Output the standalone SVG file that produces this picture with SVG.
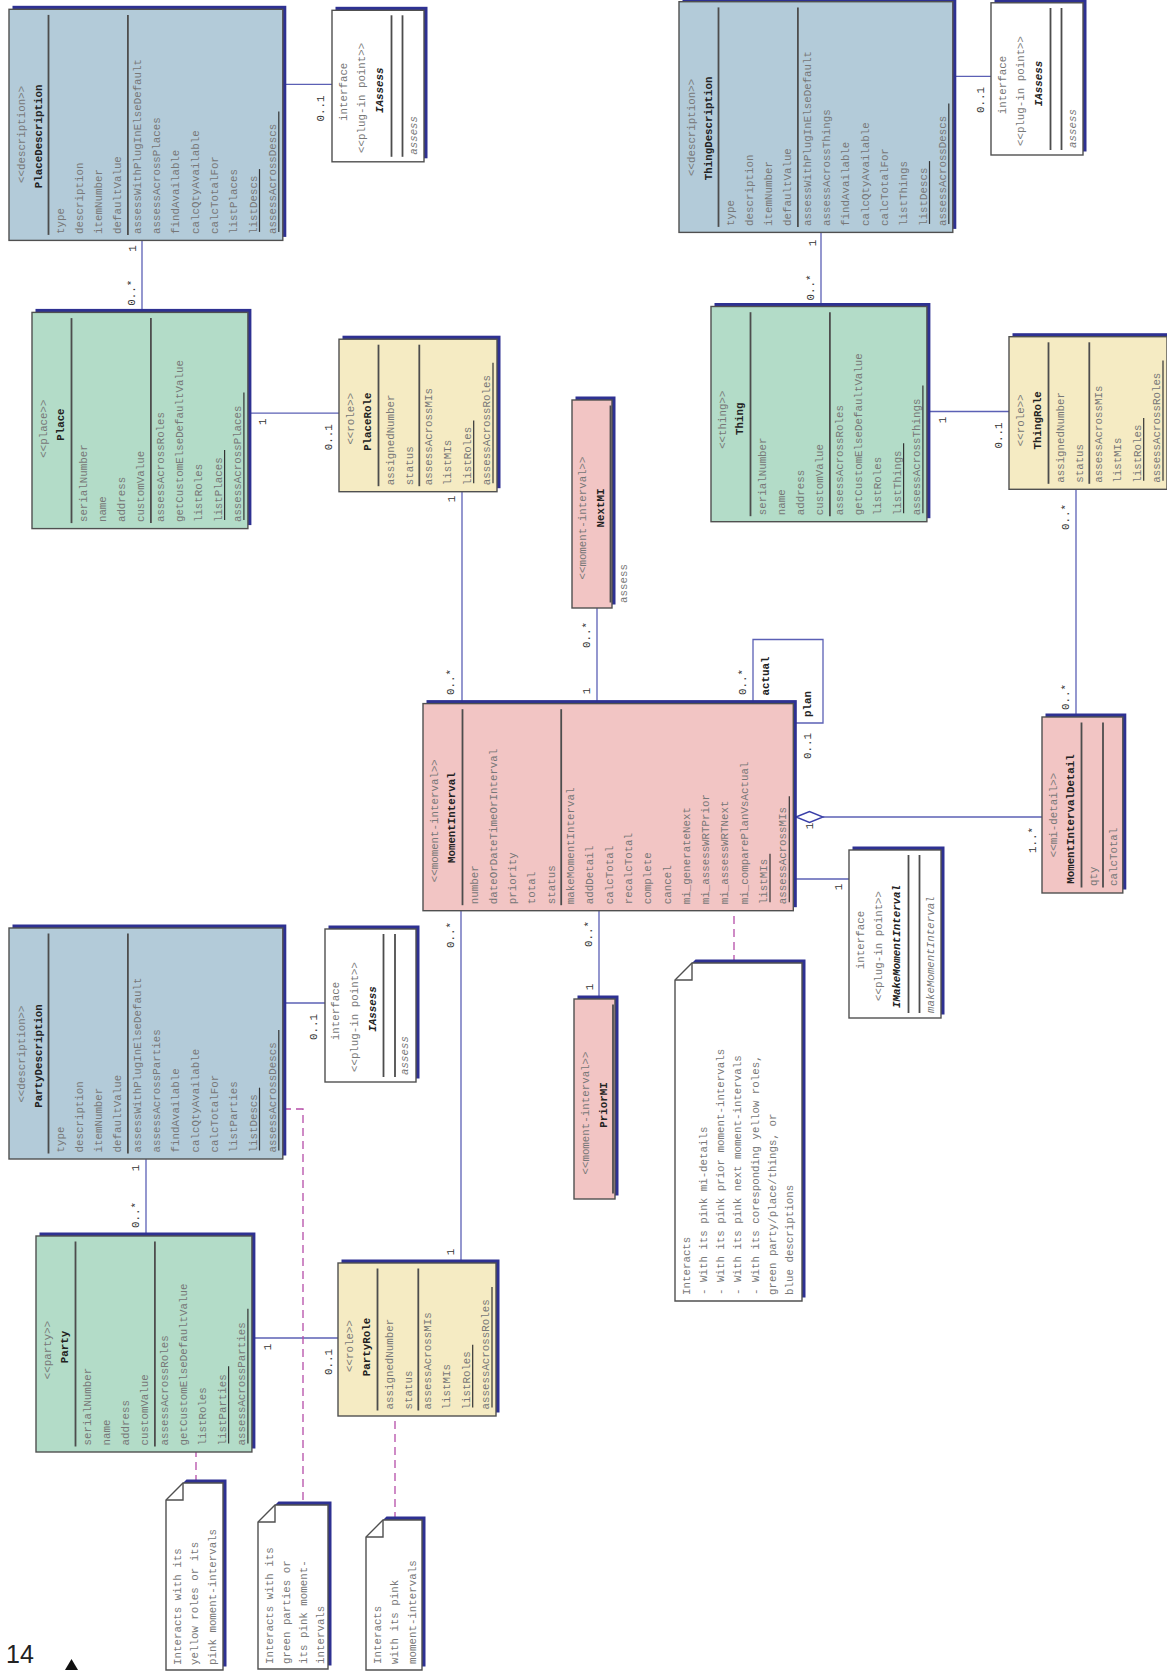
<svg xmlns="http://www.w3.org/2000/svg" width="1167" height="1671" viewBox="0 0 1167 1671">
<defs>
<style>
.sh{fill:#2e3192}
.bx{stroke:#505050;stroke-width:1.4}
.desc{fill:#b3cbd9}.grn{fill:#b3dcc8}.yel{fill:#f5ebc3}.pnk{fill:#f2c5c4}.wht{fill:#ffffff}
.sep{stroke:#4d4d4d;stroke-width:1.8}
.ul{stroke:#333;stroke-width:1.2}
text{font-family:"Liberation Mono","DejaVu Sans Mono",monospace;font-size:10.8px;fill:#777}
.st{text-anchor:middle}
.nm{text-anchor:middle;font-weight:bold;fill:#222}
.it{font-style:italic}
.lbl{text-anchor:middle;fill:#333}
.rl{text-anchor:middle;font-weight:bold;fill:#222}
.cn{stroke:#5b60b5;stroke-width:1.3;fill:none}
.dash{stroke:#b54da8;stroke-width:1.3;stroke-dasharray:8 5;fill:none}
.nt{fill:#ffffff;stroke:#505050;stroke-width:1.4}
.fold{fill:none;stroke:#505050;stroke-width:1.4}
</style>
</defs>
<rect width="1167" height="1671" fill="#ffffff"/>
<g transform="translate(0,1671) rotate(-90)">
<g id="connectors">
<line class="cn" x1="1586.6" y1="283" x2="1586.6" y2="332"/>
<line class="cn" x1="1358.6" y1="142" x2="1430.6" y2="142"/>
<line class="cn" x1="1257.8" y1="248" x2="1257.8" y2="339"/>
<line class="cn" x1="967.4" y1="462" x2="1179.3" y2="462"/>
<line class="cn" x1="967.4" y1="597" x2="1063" y2="597"/>
<polyline class="cn" points="967.4,753 1031.5,753 1031.5,823 948,823 948,793.3"/>
<line class="cn" x1="854" y1="823" x2="854" y2="1042"/>
<polygon points="854,796 859.5,809.5 854,823 848.5,809.5" fill="#ffffff" stroke="#3a3fa8" stroke-width="1.4"/>
<line class="cn" x1="792" y1="793.3" x2="792" y2="849"/>
<line class="cn" x1="408" y1="461" x2="760.3" y2="461"/>
<line class="cn" x1="672" y1="599" x2="760.3" y2="599"/>
<line class="cn" x1="1594.6" y1="953" x2="1594.6" y2="991"/>
<line class="cn" x1="1364.5" y1="821" x2="1438.6" y2="821"/>
<line class="cn" x1="1259.5" y1="927" x2="1259.5" y2="1009"/>
<line class="cn" x1="954" y1="1076" x2="1181.7" y2="1076"/>
<line class="cn" x1="668" y1="283" x2="668" y2="325"/>
<line class="cn" x1="435" y1="146" x2="512" y2="146"/>
<line class="cn" x1="333" y1="252" x2="333" y2="338"/>
<line class="dash" x1="708" y1="734" x2="760.3" y2="734"/>
<line class="dash" x1="188" y1="196" x2="219" y2="196"/>
<polyline class="dash" points="562,283 562,303 166,303"/>
<line class="dash" x1="151" y1="395" x2="255" y2="395"/>
<text class="lbl" x="1562.5" y="323.5">0..1</text>
<text class="lbl" x="1422.4" y="135.5">1</text>
<text class="lbl" x="1378.3" y="134.5">0..*</text>
<text class="lbl" x="1249.2" y="265.5">1</text>
<text class="lbl" x="1233.7" y="331.5">0..1</text>
<text class="lbl" x="1172" y="454.5">1</text>
<text class="lbl" x="989" y="453.5">0..*</text>
<text class="lbl" x="1036" y="589.5">0..*</text>
<text class="lbl" x="980" y="589.5">1</text>
<text class="lbl" x="989" y="745.5">0..*</text>
<text class="rl" x="995" y="768.5">actual</text>
<text class="rl" x="967" y="810.5">plan</text>
<text class="lbl" x="925" y="810.5">0..1</text>
<text class="lbl" x="845" y="813">1</text>
<text class="lbl" x="831" y="1035.5">1..*</text>
<text class="lbl" x="784" y="841.5">1</text>
<text class="lbl" x="736" y="453.5">0..*</text>
<text class="lbl" x="419" y="453.5">1</text>
<text class="lbl" x="737" y="591.5">0..*</text>
<text class="lbl" x="684" y="592.5">1</text>
<text class="lbl" x="1571" y="983.5">0..1</text>
<text class="lbl" x="1428" y="815.5">1</text>
<text class="lbl" x="1383.5" y="813.5">0..*</text>
<text class="lbl" x="1251" y="945.5">1</text>
<text class="lbl" x="1235.4" y="1001.5">0..1</text>
<text class="lbl" x="1154" y="1068.5">0..*</text>
<text class="lbl" x="974" y="1068.5">0..*</text>
<text class="lbl" x="644" y="316.5">0..1</text>
<text class="lbl" x="503" y="138.5">1</text>
<text class="lbl" x="456" y="138.5">0..*</text>
<text class="lbl" x="324" y="270.5">1</text>
<text class="lbl" x="309" y="331.5">0..1</text>
</g>

<g id="PlaceDescription" transform="translate(1430.6,9)">
<rect class="sh" x="3.5" y="3.5" width="231.1" height="273.8"/>
<rect class="bx desc" width="231.1" height="273.8"/>
<line class="sep" x1="5.5" y1="39.5" x2="225.5" y2="39.5"/>
<line class="sep" x1="5.5" y1="118.9" x2="225.5" y2="118.9"/>
<text class="st" x="106" y="15.5">&lt;&lt;description&gt;&gt;</text>
<text class="nm" x="104" y="32.5">PlaceDescription</text>
<text x="6.5" y="54.5">type</text>
<text x="6.5" y="73.8">description</text>
<text x="6.5" y="93.1">itemNumber</text>
<text x="6.5" y="112.4">defaultValue</text>
<text x="6.5" y="131.7">assessWithPlugInElseDefault</text>
<text x="6.5" y="151">assessAcrossPlaces</text>
<text x="6.5" y="170.3">findAvailable</text>
<text x="6.5" y="189.6">calcQtyAvailable</text>
<text x="6.5" y="208.9">calcTotalFor</text>
<text x="6.5" y="228.2">listPlaces</text>
<text x="6.5" y="247.5">listDescs</text>
<text x="6.5" y="266.8">assessAcrossDescs</text>
<line class="ul" x1="8.5" y1="250.5" x2="71.3" y2="250.5"/>
<line class="ul" x1="8.5" y1="269.8" x2="128.9" y2="269.8"/>
</g>

<g id="IAssessPlace" transform="translate(1509.2,332)">
<rect class="sh" x="3.5" y="3.5" width="151.5" height="92"/>
<rect class="bx wht" width="151.5" height="92"/>
<line class="sep" x1="5" y1="59.5" x2="146.5" y2="59.5"/>
<line class="sep" x1="5" y1="70.5" x2="146.5" y2="70.5"/>
<text class="st" x="70" y="14.5">interface</text>
<text class="st" x="64" y="33">&lt;&lt;plug-in point&gt;&gt;</text>
<text class="nm it" x="71.5" y="51">IAssess</text>
<text class="it" x="7" y="84.5">assess</text>
</g>

<g id="Place" transform="translate(1142.4,32)">
<rect class="sh" x="3.5" y="3.5" width="216.2" height="215.9"/>
<rect class="bx grn" width="216.2" height="215.9"/>
<line class="sep" x1="5.5" y1="39.5" x2="210.5" y2="39.5"/>
<line class="sep" x1="5.5" y1="118.9" x2="210.5" y2="118.9"/>
<text class="st" x="100" y="15">&lt;&lt;place&gt;&gt;</text>
<text class="nm" x="104" y="32">Place</text>
<text x="6.5" y="54.5">serialNumber</text>
<text x="6.5" y="73.8">name</text>
<text x="6.5" y="93.1">address</text>
<text x="6.5" y="112.4">customValue</text>
<text x="6.5" y="131.7">assessAcrossRoles</text>
<text x="6.5" y="151">getCustomElseDefaultValue</text>
<text x="6.5" y="170.3">listRoles</text>
<text x="6.5" y="189.6">listPlaces</text>
<text x="6.5" y="208.9">assessAcrossPlaces</text>
<line class="ul" x1="8.5" y1="192.6" x2="78.5" y2="192.6"/>
<line class="ul" x1="8.5" y1="211.9" x2="136.1" y2="211.9"/>
</g>

<g id="PlaceRole" transform="translate(1179.3,339)">
<rect class="sh" x="3.5" y="3.5" width="152.5" height="158"/>
<rect class="bx yel" width="152.5" height="158"/>
<line class="sep" x1="5.5" y1="39.5" x2="147" y2="39.5"/>
<line class="sep" x1="5.5" y1="80.3" x2="147" y2="80.3"/>
<text class="st" x="73" y="15">&lt;&lt;role&gt;&gt;</text>
<text class="nm" x="70" y="32">PlaceRole</text>
<text x="6.5" y="54.5">assignedNumber</text>
<text x="6.5" y="73.8">status</text>
<text x="6.5" y="93.1">assessAcrossMIs</text>
<text x="6.5" y="112.4">listMIs</text>
<text x="6.5" y="131.7">listRoles</text>
<text x="6.5" y="151">assessAcrossRoles</text>
<line class="ul" x1="8.5" y1="134.7" x2="71.3" y2="134.7"/>
<line class="ul" x1="8.5" y1="154" x2="128.9" y2="154"/>
</g>

<g id="ThingDescription" transform="translate(1438.6,679)">
<rect class="sh" x="3.5" y="3.5" width="230.7" height="273.8"/>
<rect class="bx desc" width="230.7" height="273.8"/>
<line class="sep" x1="5.5" y1="39.5" x2="225" y2="39.5"/>
<line class="sep" x1="5.5" y1="118.9" x2="225" y2="118.9"/>
<text class="st" x="105" y="15.5">&lt;&lt;description&gt;&gt;</text>
<text class="nm" x="104" y="32.5">ThingDescription</text>
<text x="6.5" y="54.5">type</text>
<text x="6.5" y="73.8">description</text>
<text x="6.5" y="93.1">itemNumber</text>
<text x="6.5" y="112.4">defaultValue</text>
<text x="6.5" y="131.7">assessWithPlugInElseDefault</text>
<text x="6.5" y="151">assessAcrossThings</text>
<text x="6.5" y="170.3">findAvailable</text>
<text x="6.5" y="189.6">calcQtyAvailable</text>
<text x="6.5" y="208.9">calcTotalFor</text>
<text x="6.5" y="228.2">listThings</text>
<text x="6.5" y="247.5">listDescs</text>
<text x="6.5" y="266.8">assessAcrossDescs</text>
<line class="ul" x1="8.5" y1="250.5" x2="71.3" y2="250.5"/>
<line class="ul" x1="8.5" y1="269.8" x2="128.9" y2="269.8"/>
</g>

<g id="IAssessThing" transform="translate(1516,991)">
<rect class="sh" x="3.5" y="3.5" width="152.2" height="92"/>
<rect class="bx wht" width="152.2" height="92"/>
<line class="sep" x1="5" y1="59.5" x2="147" y2="59.5"/>
<line class="sep" x1="5" y1="70.5" x2="147" y2="70.5"/>
<text class="st" x="70" y="14.5">interface</text>
<text class="st" x="64" y="33">&lt;&lt;plug-in point&gt;&gt;</text>
<text class="nm it" x="71.5" y="51">IAssess</text>
<text class="it" x="7" y="84.5">assess</text>
</g>

<g id="Thing" transform="translate(1149.3,711)">
<rect class="sh" x="3.5" y="3.5" width="215.2" height="215.9"/>
<rect class="bx grn" width="215.2" height="215.9"/>
<line class="sep" x1="5.5" y1="39.5" x2="209.5" y2="39.5"/>
<line class="sep" x1="5.5" y1="118.9" x2="209.5" y2="118.9"/>
<text class="st" x="102" y="15">&lt;&lt;thing&gt;&gt;</text>
<text class="nm" x="103" y="32">Thing</text>
<text x="6.5" y="54.5">serialNumber</text>
<text x="6.5" y="73.8">name</text>
<text x="6.5" y="93.1">address</text>
<text x="6.5" y="112.4">customValue</text>
<text x="6.5" y="131.7">assessAcrossRoles</text>
<text x="6.5" y="151">getCustomElseDefaultValue</text>
<text x="6.5" y="170.3">listRoles</text>
<text x="6.5" y="189.6">listThings</text>
<text x="6.5" y="208.9">assessAcrossThings</text>
<line class="ul" x1="8.5" y1="192.6" x2="78.5" y2="192.6"/>
<line class="ul" x1="8.5" y1="211.9" x2="136.1" y2="211.9"/>
</g>

<g id="ThingRole" transform="translate(1181.7,1009)">
<rect class="sh" x="3.5" y="3.5" width="152.6" height="158"/>
<rect class="bx yel" width="152.6" height="158"/>
<line class="sep" x1="5.5" y1="39.5" x2="147" y2="39.5"/>
<line class="sep" x1="5.5" y1="80.3" x2="147" y2="80.3"/>
<text class="st" x="69" y="15">&lt;&lt;role&gt;&gt;</text>
<text class="nm" x="69" y="32">ThingRole</text>
<text x="6.5" y="54.5">assignedNumber</text>
<text x="6.5" y="73.8">status</text>
<text x="6.5" y="93.1">assessAcrossMIs</text>
<text x="6.5" y="112.4">listMIs</text>
<text x="6.5" y="131.7">listRoles</text>
<text x="6.5" y="151">assessAcrossRoles</text>
<line class="ul" x1="8.5" y1="134.7" x2="71.3" y2="134.7"/>
<line class="ul" x1="8.5" y1="154" x2="128.9" y2="154"/>
</g>

<g id="NextMI" transform="translate(1063,572)">
<rect class="sh" x="3.5" y="3.5" width="208" height="40"/>
<rect class="bx pnk" width="208" height="40"/>
<line class="sep" x1="5.5" y1="38.5" x2="202.5" y2="38.5"/>
<text class="st" x="90" y="14">&lt;&lt;moment-interval&gt;&gt;</text>
<text class="nm" x="100" y="31.5">NextMI</text>
<text x="5" y="54.5">assess</text>
</g>

<g id="MomentInterval" transform="translate(760.3,423)">
<rect class="sh" x="3.5" y="3.5" width="207.1" height="370.3"/>
<rect class="bx pnk" width="207.1" height="370.3"/>
<line class="sep" x1="5.5" y1="39.5" x2="201.5" y2="39.5"/>
<line class="sep" x1="5.5" y1="138.2" x2="201.5" y2="138.2"/>
<text class="st" x="90" y="15">&lt;&lt;moment-interval&gt;&gt;</text>
<text class="nm" x="93" y="32">MomentInterval</text>
<text x="6.5" y="54.5">number</text>
<text x="6.5" y="73.8">dateOrDateTimeOrInterval</text>
<text x="6.5" y="93.1">priority</text>
<text x="6.5" y="112.4">total</text>
<text x="6.5" y="131.7">status</text>
<text x="6.5" y="151">makeMomentInterval</text>
<text x="6.5" y="170.3">addDetail</text>
<text x="6.5" y="189.6">calcTotal</text>
<text x="6.5" y="208.9">recalcTotal</text>
<text x="6.5" y="228.2">complete</text>
<text x="6.5" y="247.5">cancel</text>
<text x="6.5" y="266.8">mi_generateNext</text>
<text x="6.5" y="286.1">mi_assessWRTPrior</text>
<text x="6.5" y="305.4">mi_assessWRTNext</text>
<text x="6.5" y="324.7">mi_comparePlanVsActual</text>
<text x="6.5" y="344">listMIs</text>
<text x="6.5" y="363.3">assessAcrossMIs</text>
<line class="ul" x1="8.5" y1="347" x2="56.9" y2="347"/>
<line class="ul" x1="8.5" y1="366.3" x2="114.5" y2="366.3"/>
</g>

<g id="MomentIntervalDetail" transform="translate(778,1042)">
<rect class="sh" x="3.5" y="3.5" width="176" height="80.8"/>
<rect class="bx pnk" width="176" height="80.8"/>
<line class="sep" x1="5.5" y1="39.5" x2="170.5" y2="39.5"/>
<line class="sep" x1="5.5" y1="61" x2="170.5" y2="61"/>
<text class="st" x="78" y="15">&lt;&lt;mi-detail&gt;&gt;</text>
<text class="nm" x="74" y="32">MomentIntervalDetail</text>
<text x="7" y="54.5">qty</text>
<text x="7" y="74.5">calcTotal</text>
</g>

<g id="IMakeMomentInterval" transform="translate(653,849)">
<rect class="sh" x="3.5" y="3.5" width="168" height="92"/>
<rect class="bx wht" width="168" height="92"/>
<line class="sep" x1="5" y1="59.5" x2="163" y2="59.5"/>
<line class="sep" x1="5" y1="70.5" x2="163" y2="70.5"/>
<text class="st" x="78" y="14.5">interface</text>
<text class="st" x="72" y="33">&lt;&lt;plug-in point&gt;&gt;</text>
<text class="nm it" x="71.5" y="51">IMakeMomentInterval</text>
<text class="it" x="5" y="84.5">makeMomentInterval</text>
</g>

<g id="PriorMI" transform="translate(472,574)">
<rect class="sh" x="3.5" y="3.5" width="200" height="41"/>
<rect class="bx pnk" width="200" height="41"/>
<line class="sep" x1="5.5" y1="39" x2="194.5" y2="39"/>
<text class="st" x="86" y="14.5">&lt;&lt;moment-interval&gt;&gt;</text>
<text class="nm" x="94" y="32.5">PriorMI</text>
</g>

<g id="MINote" transform="translate(370,675)">
<path class="sh" d="M3.5,3.5 H324.5 L341.5,20.5 V130.5 H3.5 Z"/>
<path class="nt" d="M0,0 H321 L338,17 V127 H0 Z"/>
<path class="fold" d="M321,0 V17 H338"/>
<text x="6" y="14.5">Interacts</text>
<text x="6" y="31.8">- With its pink mi-details</text>
<text x="6" y="49.1">- With its pink prior moment-intervals</text>
<text x="6" y="66.4">- With its pink next moment-intervals</text>
<text x="6" y="83.7">- With its coresponding yellow roles,</text>
<text x="6" y="101">green party/place/things, or</text>
<text x="6" y="118.3">blue descriptions</text>
</g>

<g id="PartyDescription" transform="translate(512,9)">
<rect class="sh" x="3.5" y="3.5" width="231" height="273.8"/>
<rect class="bx desc" width="231" height="273.8"/>
<line class="sep" x1="5.5" y1="39.5" x2="225.5" y2="39.5"/>
<line class="sep" x1="5.5" y1="118.9" x2="225.5" y2="118.9"/>
<text class="st" x="105" y="15.5">&lt;&lt;description&gt;&gt;</text>
<text class="nm" x="103" y="32.5">PartyDescription</text>
<text x="6.5" y="54.5">type</text>
<text x="6.5" y="73.8">description</text>
<text x="6.5" y="93.1">itemNumber</text>
<text x="6.5" y="112.4">defaultValue</text>
<text x="6.5" y="131.7">assessWithPlugInElseDefault</text>
<text x="6.5" y="151">assessAcrossParties</text>
<text x="6.5" y="170.3">findAvailable</text>
<text x="6.5" y="189.6">calcQtyAvailable</text>
<text x="6.5" y="208.9">calcTotalFor</text>
<text x="6.5" y="228.2">listParties</text>
<text x="6.5" y="247.5">listDescs</text>
<text x="6.5" y="266.8">assessAcrossDescs</text>
<line class="ul" x1="8.5" y1="250.5" x2="71.3" y2="250.5"/>
<line class="ul" x1="8.5" y1="269.8" x2="128.9" y2="269.8"/>
</g>

<g id="IAssessParty" transform="translate(589,325)">
<rect class="sh" x="3.5" y="3.5" width="153" height="91"/>
<rect class="bx wht" width="153" height="91"/>
<line class="sep" x1="5" y1="58.5" x2="148" y2="58.5"/>
<line class="sep" x1="5" y1="70" x2="148" y2="70"/>
<text class="st" x="71" y="13.5">interface</text>
<text class="st" x="65" y="32.5">&lt;&lt;plug-in point&gt;&gt;</text>
<text class="nm it" x="73" y="51">IAssess</text>
<text class="it" x="7" y="83">assess</text>
</g>

<g id="Party" transform="translate(219,36)">
<rect class="sh" x="3.5" y="3.5" width="216" height="215.9"/>
<rect class="bx grn" width="216" height="215.9"/>
<line class="sep" x1="5.5" y1="39.5" x2="210.5" y2="39.5"/>
<line class="sep" x1="5.5" y1="118.9" x2="210.5" y2="118.9"/>
<text class="st" x="102" y="15">&lt;&lt;party&gt;&gt;</text>
<text class="nm" x="105" y="32">Party</text>
<text x="6.5" y="54.5">serialNumber</text>
<text x="6.5" y="73.8">name</text>
<text x="6.5" y="93.1">address</text>
<text x="6.5" y="112.4">customValue</text>
<text x="6.5" y="131.7">assessAcrossRoles</text>
<text x="6.5" y="151">getCustomElseDefaultValue</text>
<text x="6.5" y="170.3">listRoles</text>
<text x="6.5" y="189.6">listParties</text>
<text x="6.5" y="208.9">assessAcrossParties</text>
<line class="ul" x1="8.5" y1="192.6" x2="85.7" y2="192.6"/>
<line class="ul" x1="8.5" y1="211.9" x2="143.3" y2="211.9"/>
</g>

<g id="PartyRole" transform="translate(255,338)">
<rect class="sh" x="3.5" y="3.5" width="153" height="158"/>
<rect class="bx yel" width="153" height="158"/>
<line class="sep" x1="5.5" y1="39.5" x2="147.5" y2="39.5"/>
<line class="sep" x1="5.5" y1="80.3" x2="147.5" y2="80.3"/>
<text class="st" x="70" y="15">&lt;&lt;role&gt;&gt;</text>
<text class="nm" x="69" y="32">PartyRole</text>
<text x="6.5" y="54.5">assignedNumber</text>
<text x="6.5" y="73.8">status</text>
<text x="6.5" y="93.1">assessAcrossMIs</text>
<text x="6.5" y="112.4">listMIs</text>
<text x="6.5" y="131.7">listRoles</text>
<text x="6.5" y="151">assessAcrossRoles</text>
<line class="ul" x1="8.5" y1="134.7" x2="71.3" y2="134.7"/>
<line class="ul" x1="8.5" y1="154" x2="128.9" y2="154"/>
</g>

<g id="PartyNote" transform="translate(1,166)">
<path class="sh" d="M3.5,3.5 H173.5 L190.5,20.5 V60.5 H3.5 Z"/>
<path class="nt" d="M0,0 H170 L187,17 V57 H0 Z"/>
<path class="fold" d="M170,0 V17 H187"/>
<text x="5" y="14.5">Interacts with its</text>
<text x="5" y="32">yellow roles or its</text>
<text x="5" y="49.5">pink moment-intervals</text>
</g>

<g id="PartyDescriptionNote" transform="translate(2,258)">
<path class="sh" d="M3.5,3.5 H150.5 L167.5,20.5 V73.5 H3.5 Z"/>
<path class="nt" d="M0,0 H147 L164,17 V70 H0 Z"/>
<path class="fold" d="M147,0 V17 H164"/>
<text x="5" y="14.5">Interacts with its</text>
<text x="5" y="31.5">green parties or</text>
<text x="5" y="48.5">its pink moment-</text>
<text x="5" y="65.5">intervals</text>
</g>

<g id="PartyRoleNote" transform="translate(1,366)">
<path class="sh" d="M3.5,3.5 H136.5 L153.5,20.5 V59.5 H3.5 Z"/>
<path class="nt" d="M0,0 H133 L150,17 V56 H0 Z"/>
<path class="fold" d="M133,0 V17 H150"/>
<text x="6" y="14.5">Interacts</text>
<text x="6" y="32">with its pink</text>
<text x="6" y="49.5">moment-intervals</text>
</g>
</g>
<text x="6" y="1663" style="font-family:'Liberation Sans',Arial,sans-serif;font-size:25px;fill:#222">14</text>
<polygon points="65,1670 78,1670 71.5,1659" fill="#111"/>
</svg>
